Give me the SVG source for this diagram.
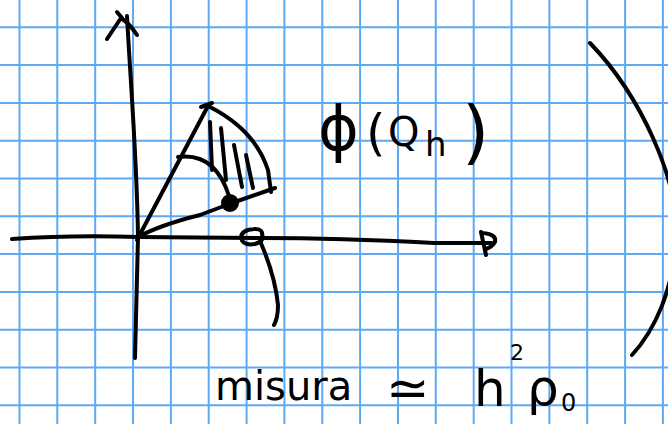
<svg xmlns="http://www.w3.org/2000/svg" width="668" height="424" viewBox="0 0 668 424">
<defs>
<style>
.grid line{stroke:#5ea9f3;stroke-width:2}
.ink{fill:none;stroke:#000;stroke-width:4;stroke-linecap:round;stroke-linejoin:round}
.hw{font-family:"DejaVu Sans","Liberation Sans",sans-serif;fill:#000}
</style>
</defs>
<rect width="668" height="424" fill="#fff"/>
<g class="grid" id="grid">
<line x1="19.5" y1="0" x2="19.5" y2="424"/>
<line x1="57.3" y1="0" x2="57.3" y2="424"/>
<line x1="95.2" y1="0" x2="95.2" y2="424"/>
<line x1="133" y1="0" x2="133" y2="424"/>
<line x1="170.9" y1="0" x2="170.9" y2="424"/>
<line x1="208.7" y1="0" x2="208.7" y2="424"/>
<line x1="246.6" y1="0" x2="246.6" y2="424"/>
<line x1="284.4" y1="0" x2="284.4" y2="424"/>
<line x1="322.3" y1="0" x2="322.3" y2="424"/>
<line x1="360.1" y1="0" x2="360.1" y2="424"/>
<line x1="398" y1="0" x2="398" y2="424"/>
<line x1="435.8" y1="0" x2="435.8" y2="424"/>
<line x1="473.7" y1="0" x2="473.7" y2="424"/>
<line x1="511.5" y1="0" x2="511.5" y2="424"/>
<line x1="549.4" y1="0" x2="549.4" y2="424"/>
<line x1="587.2" y1="0" x2="587.2" y2="424"/>
<line x1="625.1" y1="0" x2="625.1" y2="424"/>
<line x1="662.9" y1="0" x2="662.9" y2="424"/>
<line x1="0" y1="27.3" x2="668" y2="27.3"/>
<line x1="0" y1="65.1" x2="668" y2="65.1"/>
<line x1="0" y1="102.9" x2="668" y2="102.9"/>
<line x1="0" y1="140.7" x2="668" y2="140.7"/>
<line x1="0" y1="178.5" x2="668" y2="178.5"/>
<line x1="0" y1="216.3" x2="668" y2="216.3"/>
<line x1="0" y1="254.1" x2="668" y2="254.1"/>
<line x1="0" y1="291.9" x2="668" y2="291.9"/>
<line x1="0" y1="329.7" x2="668" y2="329.7"/>
<line x1="0" y1="367.5" x2="668" y2="367.5"/>
<line x1="0" y1="405.3" x2="668" y2="405.3"/>
</g>
<g id="axes" class="ink">
<path d="M127,16 C131,90 137,160 138,237 L135,358"/>
<path d="M107,39 L121,18 Q130,24 137,35"/>
<path d="M117,12 L122,18"/>
<path d="M12,239 Q70,235 138,237 L260,238 Q340,238 434,243 L492,243"/>
<path d="M481,232 L486,255"/>
<path d="M482,233 Q497,234 495,242 Q492,247 486,249"/>
</g>
<g id="sector" class="ink">
<path d="M137,240 L209,104"/>
<path d="M201,107 L212,103"/>
<path d="M138,237 Q160,225 200,215 L232,203 L275,188"/>
<path d="M210,107 Q255,130 268,170 L271,192"/>
<path d="M178,157 Q215,152 229,196"/>
<path d="M210,122 L212,170"/>
<path d="M221,128 L226,180"/>
<path d="M234,145 L242,187"/>
<path d="M246,155 L253,188"/>
<circle cx="230" cy="203" r="9" fill="#000" stroke="none"/>
</g>
<g id="curve" class="ink">
<path d="M262,238 Q264,228 254,229 Q241,230 241,238 Q243,246 255,244 Q265,241 262,234"/>
<path d="M260,241 Q275,275 278,305 Q278,318 274,325"/>
<path d="M590,43 C640,95 680,180 676,240 C673,290 655,330 632,355"/>
</g>
<g id="label-phi" class="hw">
<text x="318" y="150" font-size="62">ϕ</text>
<text x="366" y="150" font-size="50">(</text>
<text x="388" y="146" font-size="40">Q</text>
<text x="425" y="156" font-size="34">h</text>
<text x="462" y="156" font-size="70">)</text>
</g>
<g id="label-measure" class="hw">
<text x="215" y="400" font-size="40">misura</text>
<text x="386" y="406" font-size="52">≃</text>
<text x="474" y="406" font-size="50">h</text>
<text x="510" y="360" font-size="22">2</text>
<text x="527" y="405" font-size="50">ρ</text>
<text x="561" y="411" font-size="24">0</text>
</g>
</svg>
